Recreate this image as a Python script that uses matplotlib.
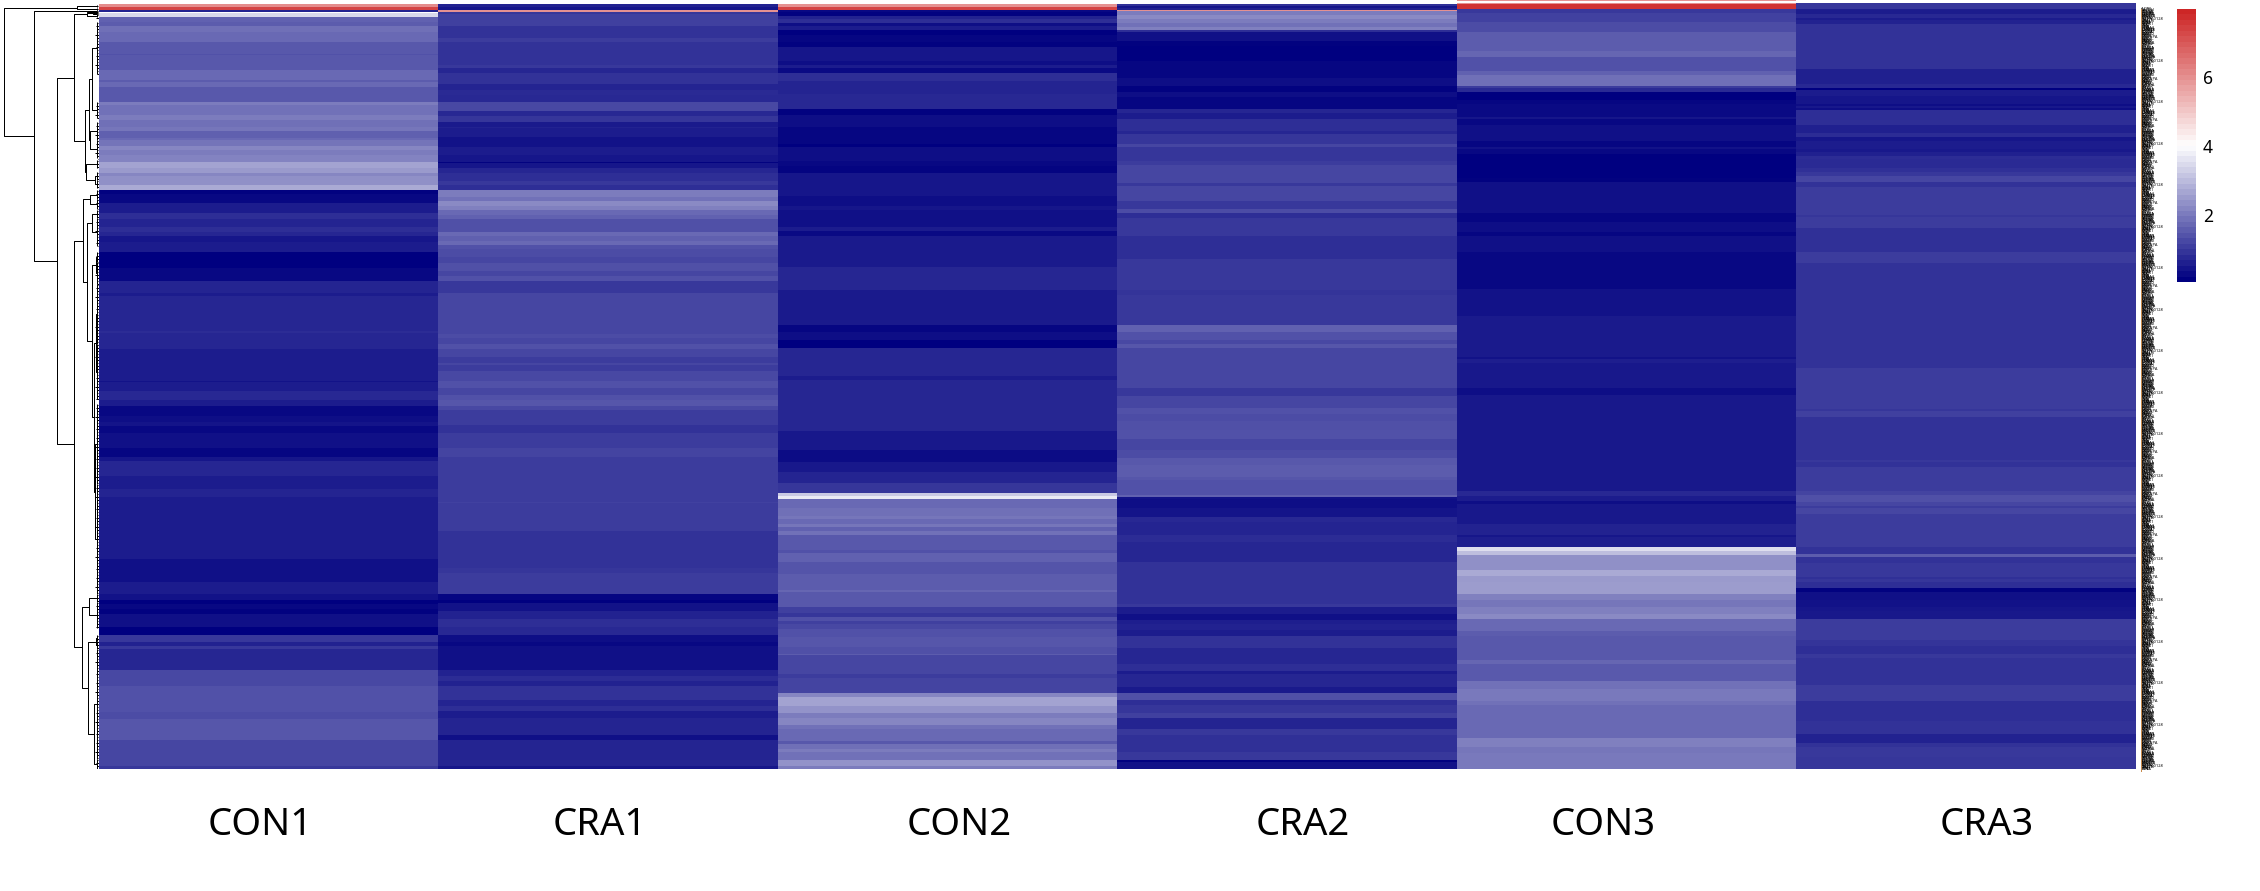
import numpy as np
import matplotlib
matplotlib.use("Agg")
import matplotlib.pyplot as plt
from matplotlib.collections import LineCollection
from matplotlib.colors import LinearSegmentedColormap
from matplotlib.lines import Line2D

plt.rcParams['font.family'] = ['Noto Sans', 'DejaVu Sans']

FIG_W, FIG_H = 2260, 891

samples = ["CON1", "CRA1", "CON2", "CRA2", "CON3", "CRA3"]
nan = float("nan")

# each sample: (last row of the band, value). rows start at -4, above the first gene
con1_bands = [(0, nan), (3, 6.1), (6, 7.4), (8, 0.6), (9, 4.0), (13, 3.4), (18, 1.6), (22, 1.5), (28, 1.8), (38, 1.7),
              (50, 1.45), (51, 1.35), (66, 1.45), (76, 1.7), (78, 1.5), (83, 1.72), (98, 1.45), (101, 2.0), (111, 1.85),
              (116, 2.0), (123, 1.8), (127, 1.9), (134, 1.55), (136, 1.7), (142, 1.88), (146, 2.15), (151, 2.0), (158, 2.1),
              (164, 2.6), (169, 2.45), (172, 2.15), (181, 2.3), (186, 2.7), (190, 0.12), (199, 0.2), (209, 0.5), (215, 0.8),
              (223, 0.62), (228, 0.8), (232, 0.65), (238, 0.42), (248, 0.5), (259, 0.06), (264, 0.08), (277, 0.2), (289, 0.62),
              (292, 0.52), (327, 0.65), (329, 0.75), (345, 0.65), (349, 0.5), (377, 0.5), (378, 0.35), (387, 0.5), (396, 0.68),
              (402, 0.5), (412, 0.2), (418, 0.3), (422, 0.38), (429, 0.2), (444, 0.33), (453, 0.18), (457, 0.42), (472, 0.65),
              (485, 0.5), (493, 0.62), (555, 0.5), (578, 0.33), (590, 0.5), (596, 0.35), (600, 0.06), (605, 0.2), (610, 0.1),
              (623, 0.33), (631, 0.06), (638, 0.95), (642, 0.6), (645, 0.95), (666, 0.65), (682, 1.2), (708, 1.35), (715, 1.25),
              (736, 1.4), (762, 1.15), (765, 0.95)]
cra1_bands = [(0, nan), (3, 0.6), (6, 0.42), (8, 6.0), (10, 0.9), (22, 1.05), (34, 0.85), (38, 1.0), (61, 0.85), (64, 0.95),
              (69, 0.65), (80, 0.85), (86, 0.62), (91, 0.72), (98, 0.68), (107, 1.2), (112, 0.68), (118, 0.9), (123, 0.48),
              (124, 0.6), (133, 0.5), (143, 0.35), (151, 0.5), (158, 0.42), (159, 0.12), (164, 0.42), (169, 0.65), (177, 0.8),
              (181, 0.95), (186, 0.8), (193, 2.0), (197, 1.85), (202, 2.2), (206, 2.05), (211, 1.7), (215, 1.6), (228, 1.3),
              (232, 1.7), (237, 1.55), (241, 1.7), (245, 1.35), (253, 1.25), (259, 1.15), (267, 1.3), (272, 1.15), (277, 1.35),
              (289, 0.95), (330, 1.15), (334, 1.25), (340, 1.15), (345, 1.35), (353, 1.15), (359, 1.0), (361, 1.15), (367, 1.0),
              (377, 1.2), (384, 1.35), (391, 1.15), (396, 1.35), (402, 1.4), (406, 1.2), (421, 1.0), (429, 0.85), (444, 1.0),
              (453, 1.12), (498, 1.0), (499, 1.1), (527, 1.0), (564, 0.85), (569, 0.9), (590, 1.0), (596, 0.18), (599, 0.08),
              (607, 0.35), (615, 0.6), (623, 0.78), (631, 0.7), (638, 0.28), (642, 0.2), (666, 0.33), (672, 0.6), (677, 0.75),
              (682, 0.6), (696, 0.85), (702, 0.62), (707, 0.8), (714, 0.5), (731, 0.62), (736, 0.33), (762, 0.62), (765, 0.42)]
con2_bands = [(0, nan), (3, 6.0), (6, 7.4), (8, 0.2), (12, 0.12), (15, 0.6), (19, 0.8), (22, 0.28), (26, 0.5), (31, 0.06),
              (38, 0.18), (43, 0.1), (57, 0.42), (61, 0.28), (64, 0.5), (69, 0.22), (77, 0.8), (90, 0.62), (105, 0.68), (111, 0.12),
              (123, 0.28), (140, 0.18), (143, 0.08), (157, 0.28), (162, 0.2), (169, 0.14), (192, 0.42), (202, 0.28), (206, 0.42),
              (223, 0.33), (227, 0.5), (232, 0.22), (263, 0.48), (286, 0.65), (321, 0.48), (328, 0.18), (336, 0.28), (344, 0.06),
              (372, 0.65), (376, 0.5), (427, 0.65), (446, 0.45), (458, 0.25), (468, 0.45), (479, 0.62), (489, 0.9), (492, 3.2),
              (495, 3.7), (504, 1.7), (512, 1.8), (515, 1.9), (520, 1.72), (523, 1.9), (527, 1.6), (531, 1.85), (546, 1.45),
              (549, 1.35), (558, 1.6), (570, 1.38), (586, 1.5), (588, 1.65), (603, 1.45), (609, 1.05), (613, 0.9), (617, 1.3),
              (620, 1.05), (625, 1.2), (633, 1.35), (643, 1.4), (650, 1.3), (651, 1.5), (670, 1.15), (674, 1.0), (689, 1.12),
              (693, 2.15), (702, 2.6), (709, 2.35), (714, 2.0), (721, 2.15), (725, 1.85), (737, 1.7), (740, 1.45), (745, 1.8),
              (748, 2.0), (756, 1.85), (762, 2.35), (765, 2.0)]
cra2_bands = [(0, nan), (2, 0.82), (4, 0.42), (6, 0.6), (7, 6.0), (11, 2.0), (15, 2.2), (19, 2.0), (23, 1.85), (26, 2.05),
              (28, 0.8), (37, 0.33), (42, 0.1), (57, 0.08), (74, 0.18), (82, 0.28), (88, 0.12), (93, 0.3), (96, 0.18), (105, 0.18),
              (109, 0.65), (115, 0.5), (127, 0.78), (130, 0.65), (140, 0.92), (143, 1.15), (157, 0.92), (161, 1.0), (179, 1.15),
              (182, 0.95), (197, 1.15), (205, 0.95), (209, 1.25), (214, 0.8), (232, 0.95), (255, 0.8), (286, 0.95), (291, 0.88),
              (321, 0.95), (328, 1.6), (336, 1.35), (340, 1.2), (344, 1.4), (384, 1.15), (392, 0.95), (396, 1.15), (404, 1.15),
              (410, 1.35), (417, 1.25), (426, 1.32), (435, 1.35), (446, 1.15), (454, 1.25), (461, 1.45), (473, 1.5), (476, 1.4),
              (491, 1.35), (493, 1.6), (495, 0.35), (504, 0.28), (513, 0.38), (518, 0.7), (531, 0.62), (538, 0.76), (558, 0.65),
              (600, 0.85), (603, 0.95), (610, 0.52), (616, 0.32), (620, 0.55), (626, 0.6), (632, 0.5), (644, 0.85), (660, 0.65),
              (667, 0.8), (670, 0.5), (683, 0.65), (689, 0.48), (696, 1.32), (701, 0.8), (709, 0.92), (714, 1.05), (725, 0.62),
              (731, 0.95), (748, 0.82), (756, 0.95), (758, 0.12), (765, 0.36)]
con3_bands = [(-3, 6.0), (-1, 4.0), (0, 6.0), (5, 7.7), (9, 0.95), (18, 1.1), (28, 1.25), (47, 1.5), (53, 1.65), (67, 1.35),
              (71, 1.6), (82, 1.8), (84, 1.0), (88, 0.72), (96, 0.08), (100, 0.18), (113, 0.22), (115, 0.42), (121, 0.2), (137, 0.33),
              (143, 0.18), (145, 0.35), (150, 0.2), (174, 0.06), (178, 0.1), (209, 0.33), (218, 0.18), (228, 0.3), (232, 0.18),
              (248, 0.33), (285, 0.2), (312, 0.35), (353, 0.48), (355, 0.35), (359, 0.55), (384, 0.45), (391, 0.28), (487, 0.45),
              (492, 0.7), (497, 0.5), (500, 0.3), (520, 0.45), (531, 0.6), (533, 0.4), (543, 0.55), (547, 3.5), (551, 3.0),
              (566, 2.3), (572, 2.7), (578, 2.45), (590, 2.5), (596, 2.05), (603, 1.9), (610, 2.05), (615, 2.2), (627, 1.7),
              (632, 1.5), (656, 1.45), (660, 1.65), (677, 1.48), (685, 1.85), (697, 1.95), (701, 1.85), (734, 1.72), (743, 2.05),
              (749, 1.9), (765, 1.95)]
cra3_bands = [(-1, nan), (5, 0.9), (10, 0.5), (14, 0.68), (16, 0.5), (20, 0.6), (65, 0.85), (80, 0.58), (84, 0.68), (86, 0.08),
              (92, 0.5), (100, 0.4), (102, 0.3), (104, 0.45), (106, 0.3), (121, 0.78), (129, 0.58), (133, 0.75), (137, 0.42),
              (145, 0.52), (148, 0.45), (152, 0.58), (155, 0.75), (164, 0.72), (168, 0.82), (172, 0.95), (178, 1.15), (183, 0.85),
              (211, 1.0), (213, 0.9), (224, 1.0), (248, 0.82), (259, 1.0), (364, 0.85), (405, 1.0), (407, 0.9), (413, 1.05),
              (456, 0.85), (458, 0.95), (463, 0.85), (487, 1.0), (491, 1.12), (498, 1.32), (502, 1.15), (504, 1.0), (510, 1.15),
              (543, 1.0), (550, 0.85), (553, 1.5), (559, 0.85), (573, 0.95), (575, 0.82), (578, 0.92), (584, 0.8), (588, 0.12),
              (596, 0.33), (603, 0.36), (607, 0.42), (615, 0.45), (636, 1.0), (642, 0.88), (650, 0.78), (654, 0.95), (681, 0.85),
              (697, 1.0), (706, 0.78), (717, 0.8), (730, 0.85), (739, 0.6), (743, 0.85), (753, 0.95), (765, 0.9)]

# hierarchical clustering of the rows: (height, child, child), a leaf is a (first row, last row) span
row_tree = (95,
            (22, (1, 3), (4, 6)),
            (65,
             (12, (6, 7), (7, 9)),
             (42,
              (25,
               (12, (6, (8, 9), (9, 10)), (10, 13)),
               (14,
                (10, (7, (18, 70), (98, 114)), (9, (118, 136), (136, 154))),
                (13, (156, 164), (4, (168, 176), (176, 184))))),
              (25,
               (16,
                (9, (186, 195), (195, 205)),
                (12,
                 (7, (206, 214), (214, 242)),
                 (7, (3, (248, 258), (258, 280)),
                  (5, (3, (280, 340), (340, 395)), (4, (400, 480), (480, 590)))))),
               (17,
                (10, (590, 598), (598, 624)),
                (11, (3, (631, 637), (637, 645)), (5, (645, 755), (755, 765))))))))
leaf_heights = [1, 3, 2, 1, 4, 2, 1, 2, 3, 1]

gene_names = ["ACTB", "GAPDH", "RPL13", "TUBA1", "EEF1A", "HSPA8", "COX6C", "NDUFA", "ATP5B", "RPS27A",
              "MYH11", "TPM1", "MYL9", "ACTA2", "LOC100128", "CALD1", "TAGLN", "VIM", "FLNA", "CNN1",
              "SOD2", "PRDX1", "GPX1", "CAT", "TXN", "UBB", "UBC", "PSMA1", "PSMB5", "SUMO2",
              "DNMT3", "SPTBN1", "COL1A", "COL3A", "FN1", "LAMB2", "ITGB1", "CD63", "APOE", "CLU",
              "HNRNPA", "SRSF3", "YBX1", "NCL", "NPM1", "PABPC", "ENO1", "PKM", "LDHA", "ALDOA",
              "MDH2", "IDH2", "CS", "SDHB", "FH", "VDAC1", "SLC25A", "TMSB4", "PTMA", "H3F3B"]

n_labels = 1100
vmin, vmax = 0.06, 7.97


def expand(bands):
    # turn the bands into one value per row
    ends = [-4] + [b[0] for b in bands]
    return np.repeat([b[1] for b in bands], np.diff(ends))


def px_axes(fig, x0, y0, x1, y1):
    # axes from pixel box, y counted from the top of the picture
    return fig.add_axes([x0 / FIG_W, 1 - y1 / FIG_H, (x1 - x0) / FIG_W, (y1 - y0) / FIG_H])


def draw_node(node, segs):
    # leaf span: comb of short ticks next to the heatmap
    if len(node) == 2:
        first, last = node
        for i, row in enumerate(range(first, last + 1, 3)):
            segs.append([(leaf_heights[i % len(leaf_heights)], row + 0.5), (0, row + 0.5)])
        segs.append([(2, first), (2, last)])
        return 2, (first + last) / 2
    height, left, right = node
    h0, y0 = draw_node(left, segs)
    h1, y1 = draw_node(right, segs)
    segs.append([(h0, y0), (height, y0), (height, y1), (h1, y1)])
    return height, (y0 + y1) / 2


colors = ["#000080", "#FFFFFF", "#CD2626"]
# cells get the exact shade, the key keeps its 50 visible steps
cmap = LinearSegmentedColormap.from_list("navy_red", colors, N=256)
cmap.set_bad("white")
cmap_key = LinearSegmentedColormap.from_list("navy_red_key", colors, N=50)

matrix = np.column_stack([expand(b) for b in [con1_bands, cra1_bands, con2_bands, cra2_bands, con3_bands, cra3_bands]])

fig = plt.figure(figsize=(FIG_W / 100, FIG_H / 100), dpi=100, facecolor="white")

# Heatmap, row labels are the tiny gene names on the right
ax = px_axes(fig, 99, 0, 2136, 769)
ax.imshow(matrix, aspect="auto", cmap=cmap, vmin=vmin, vmax=vmax, interpolation="nearest",
          extent=[0, len(samples), 765, -4])
ax.set_xticks([])
label_rows = np.linspace(5, 765, n_labels)
ax.yaxis.tick_right()
ax.set_yticks(label_rows, (gene_names * (n_labels // len(gene_names) + 1))[:n_labels], fontsize=2.9, color="black")
ax.tick_params(axis="y", length=0, pad=3.7)
for side in ax.spines.values():
    side.set_visible(False)

# thin orange fringe left of the labels
fig.add_artist(Line2D([2140.5 / FIG_W] * 2, [1 - 9 / FIG_H, 1 - 771 / FIG_H], color="#c98a4a", lw=0.72))

# Row dendrogram
ax_tree = px_axes(fig, 0, 0, 99, 769)
segments = []
draw_node(row_tree, segments)
ax_tree.add_collection(LineCollection(segments, colors="black", linewidths=0.72))
ax_tree.set_xlim(99, 0)
ax_tree.set_ylim(765, -4)
ax_tree.axis("off")

# Colour key
ax_key = px_axes(fig, 2177, 9, 2196, 282)
ax_key.imshow(np.linspace(vmin, vmax, 50)[:, None], aspect="auto", cmap=cmap_key, vmin=vmin, vmax=vmax,
              origin="lower", extent=[0, 1, vmin, vmax], interpolation="nearest")
ax_key.set_xticks([])
ax_key.yaxis.tick_right()
ax_key.set_yticks([2, 4, 6], ["2", "4", "6"], fontsize=12.5)
ax_key.tick_params(axis="y", length=0, pad=5)
for side in ax_key.spines.values():
    side.set_visible(False)

# Sample names were put under the columns by hand, not centred on them
sample_x = [260, 600, 959, 1303, 1603, 1987]
for name, x in zip(samples, sample_x):
    fig.text(x / FIG_W, 1 - 825 / FIG_H, name, fontsize=27.5, ha="center", va="center", color="black")

fig.savefig("out.png", dpi=100, facecolor="white")
